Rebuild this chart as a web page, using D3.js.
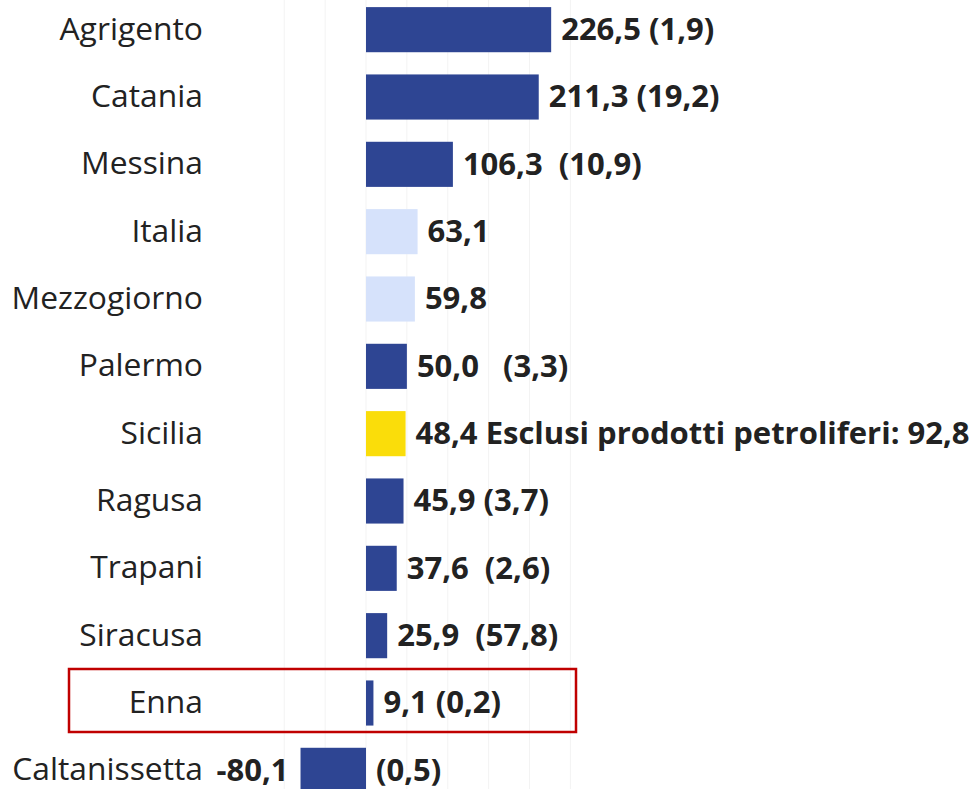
<!DOCTYPE html>
<html>
<head>
<meta charset="utf-8">
<script src="https://cdn.jsdelivr.net/npm/d3@7/dist/d3.min.js"></script>
<style>
  html, body { margin: 0; padding: 0; background: #ffffff; }
  svg { display: block; }
  text { white-space: pre; }
</style>
</head>
<body>
<svg id="chart" width="969" height="789"></svg>
<script>
// ---- data ----
const categories = ["Agrigento", "Catania", "Messina", "Italia", "Mezzogiorno", "Palermo", "Sicilia", "Ragusa", "Trapani", "Siracusa", "Enna", "Caltanissetta"];
const values = [226.5, 211.3, 106.3, 63.1, 59.8, 50.0, 48.4, 45.9, 37.6, 25.9, 9.1, -80.1];
const valueLabels = ["226,5", "211,3", "106,3", "63,1", "59,8", "50,0", "48,4", "45,9", "37,6", "25,9", "9,1", "-80,1"];
const extraLabels = ["(1,9)", "(19,2)", " (10,9)", "", "", "  (3,3)", "Esclusi prodotti petroliferi: 92,8", "(3,7)", " (2,6)", " (57,8)", "(0,2)", "(0,5)"];
const groups = ["prov", "prov", "prov", "area", "area", "prov", "region", "prov", "prov", "prov", "prov", "prov"];
const gridTicks = [-100, -50, 0, 50, 100, 150, 200, 250];
const highlighted = ["Enna"];

const colors = { prov: "#2e4593", area: "#d6e2fb", region: "#fadd0a" };

const svg = d3.select("#chart");
const x = d3.scaleLinear().domain([0, 250]).range([366, 366 + 250 * 0.8175]);
const y = d3.scaleBand().domain(categories).range([-4, 804]).paddingInner(0.33).paddingOuter(0.165);

// faint gridlines
svg.append("g").selectAll("line").data(gridTicks).join("line")
  .attr("x1", d => x(d)).attr("x2", d => x(d))
  .attr("y1", 0).attr("y2", 789)
  .attr("stroke", "#f3f3f3").attr("stroke-width", 1);

const data = categories.map((c, i) => ({ c, v: values[i], vl: valueLabels[i], ex: extraLabels[i], g: groups[i] }));

// bars
svg.append("g").selectAll("rect").data(data).join("rect")
  .attr("x", d => Math.min(x(0), x(d.v)))
  .attr("width", d => Math.abs(x(d.v) - x(0)))
  .attr("y", d => y(d.c))
  .attr("height", y.bandwidth())
  .attr("fill", d => colors[d.g]);

const font = "'Open Sans', sans-serif";
const valueSize = 31;

// category labels
svg.append("g").selectAll("text").data(data).join("text")
  .attr("x", 203)
  .attr("y", d => y(d.c) + y.bandwidth() / 2)
  .attr("dy", "0.31em")
  .attr("text-anchor", "end")
  .attr("font-family", font)
  .attr("font-size", 31.8)
  .attr("fill", "#222")
  .text(d => d.c);

// value labels
const lab = svg.append("g").selectAll("text").data(data).join("text")
  .attr("y", d => y(d.c) + y.bandwidth() / 2)
  .attr("dy", "0.33em")
  .attr("font-family", font)
  .attr("font-weight", "bold")
  .attr("font-size", valueSize)
  .attr("fill", "#222");

lab.each(function(d) {
  const t = d3.select(this);
  if (d.v >= 0) {
    t.attr("x", x(d.v) + 10).attr("text-anchor", "start")
      .text(d.ex ? d.vl + " " + d.ex : d.vl);
  } else {
    t.attr("x", x(d.v) - 12).attr("text-anchor", "end").text(d.vl);
    svg.append("text")
      .attr("x", x(0) + 10)
      .attr("y", y(d.c) + y.bandwidth() / 2)
      .attr("dy", "0.33em")
      .attr("font-family", font)
      .attr("font-weight", "bold")
      .attr("font-size", valueSize)
      .attr("fill", "#222")
      .text(d.ex);
  }
});

// highlight box
highlighted.forEach(c => {
  const cy = y(c) + y.bandwidth() / 2;
  svg.append("rect")
    .attr("x", 69).attr("y", cy - 34)
    .attr("width", 507).attr("height", 63)
    .attr("fill", "none")
    .attr("stroke", "#c00000")
    .attr("stroke-width", 2.5);
});
</script>
</body>
</html>
